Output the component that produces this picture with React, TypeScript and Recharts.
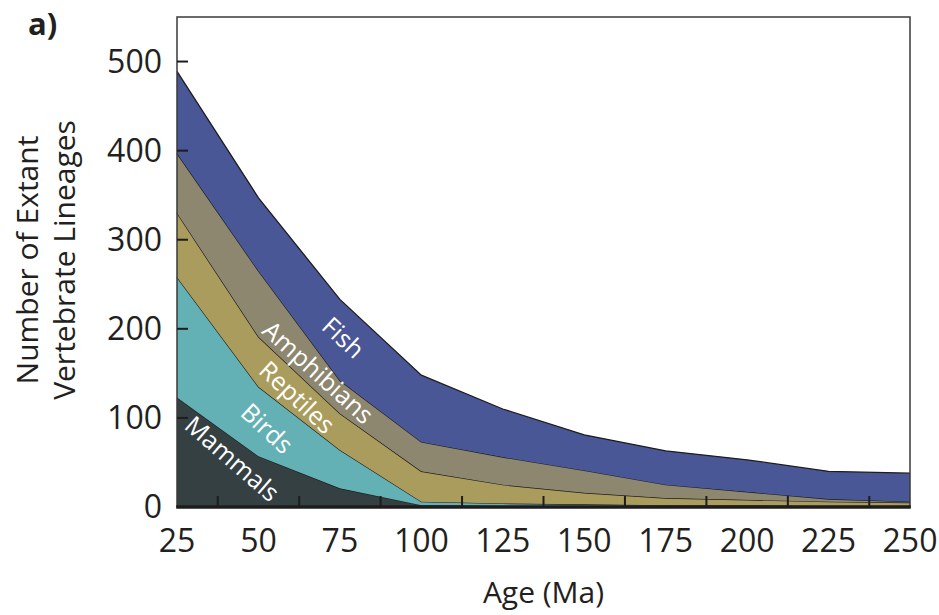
import { AreaChart, Area, XAxis, YAxis, ReferenceArea, ReferenceDot, Label } from 'recharts';

// age (Ma) and lineage counts per group (stacked, bottom to top)
const AGES = [25, 50, 75, 100, 125, 150, 175, 200, 225, 250];
const MAMMALS = [123, 57, 21, 2, 1, 1, 1, 0, 0, 0];
const BIRDS = [135, 78, 43, 4, 3, 2, 1, 2, 1, 1];
const REPTILES = [72, 56, 41, 34, 21, 13, 8, 6, 5, 4];
const AMPHIBIANS = [67, 74, 37, 33, 31, 25, 15, 9, 3, 1];
const FISH = [92, 82, 91, 75, 54, 40, 38, 36, 31, 32];

const X_LABELS = [25, 50, 75, 100, 125, 150, 175, 200, 225, 250];
const X_MARKS = [37.5, 62.5, 87.5, 112.5, 137.5, 162.5, 187.5, 212.5, 237.5];
const Y_TICKS = [0, 100, 200, 300, 400, 500];
const Y_MARKS = [100, 200, 300, 400, 500];

// in-area group names
const AREA_LABELS = [
  { text: 'Fish', age: 76, value: 190, rot: 43 },
  { text: 'Amphibians', age: 68.3, value: 151, rot: 42 },
  { text: 'Reptiles', age: 61.8, value: 123, rot: 43 },
  { text: 'Birds', age: 52.6, value: 88, rot: 43 },
  { text: 'Mammals', age: 41.9, value: 54, rot: 41 },
];

const data = AGES.map((age, i) => ({
  age,
  mammals: MAMMALS[i],
  birds: BIRDS[i],
  reptiles: REPTILES[i],
  amphibians: AMPHIBIANS[i],
  fish: FISH[i],
}));

const FONT = '"Open Sans", sans-serif';
const INK = '#231f20';
const LINE = '#1e1c1c';

const YTitle = ({ viewBox }: any) => {
  const cy = viewBox.y + viewBox.height / 2 - 2;
  return (
    <g fontFamily={FONT} fontSize={30} fill={INK} textAnchor="middle">
      <text transform={`translate(${viewBox.x + 27}, ${cy}) rotate(-90)`} dy="0.35em">Number of Extant</text>
      <text transform={`translate(${viewBox.x + 64}, ${cy}) rotate(-90)`} dy="0.35em">Vertebrate Lineages</text>
    </g>
  );
};

const XTitle = ({ viewBox }: any) => (
  <text x={viewBox.x + viewBox.width / 2} y={viewBox.y + 96} textAnchor="middle" fontFamily={FONT} fontSize={30} fill={INK}>
    Age (Ma)
  </text>
);

const RotLabel = ({ viewBox, txt, rot }: any) => {
  const cx = viewBox.x + viewBox.width / 2;
  const cy = viewBox.y + viewBox.height / 2;
  return (
    <text transform={`translate(${cx}, ${cy}) rotate(${rot})`} dy="0.35em" textAnchor="middle"
      fontFamily={FONT} fontSize={25} fill="#ffffff">
      {txt}
    </text>
  );
};

// short inward tick drawn at a scaled point
const Mark = ({ viewBox, vert }: any) => {
  const cx = viewBox.x + viewBox.width / 2;
  const cy = viewBox.y + viewBox.height / 2;
  const d = vert ? `M${cx},${cy}V${cy - 11}` : `M${cx},${cy}H${cx + 11}`;
  return <path d={d} stroke={LINE} strokeWidth={2} fill="none" />;
};

// plot frame: thin box with a heavy baseline
const Frame = ({ viewBox }: any) => {
  const { x, y, width, height } = viewBox;
  return (
    <g>
      <rect x={x} y={y} width={width} height={height} fill="none" stroke="#3a3a3a" strokeWidth={1.5} />
      <line x1={x - 0.75} x2={x + width + 0.75} y1={y + height} y2={y + height} stroke={LINE} strokeWidth={3.5} />
    </g>
  );
};

export default function App() {
  return (
    <div style={{ position: 'absolute', left: 0, top: 0, width: 939, height: 615, background: '#fff' }}>
      <span style={{ position: 'absolute', left: 28, top: 8, fontFamily: FONT, fontWeight: 700, fontSize: 31, lineHeight: '31px', color: INK }}>
        a)
      </span>
      <AreaChart width={939} height={615} data={data} margin={{ top: 17, right: 29, bottom: 0, left: 0 }}>
        <XAxis dataKey="age" type="number" domain={[25, 250]} ticks={X_LABELS} interval={0} height={108}
          tickLine={false} tickSize={0} tickMargin={22} axisLine={false}
          tick={{ fontFamily: FONT, fontSize: 32, fill: INK }}>
          <Label content={<XTitle />} />
        </XAxis>
        <YAxis type="number" domain={[0, 550]} ticks={Y_TICKS} width={177} tickSize={0} tickMargin={15}
          tickLine={false} axisLine={false} tick={{ fontFamily: FONT, fontSize: 32, fill: INK }}>
          <Label content={<YTitle />} />
        </YAxis>
        <Area type="linear" dataKey="mammals" stackId="a" stroke={LINE} strokeWidth={1.3} fill="#354043" fillOpacity={1} isAnimationActive={false} />
        <Area type="linear" dataKey="birds" stackId="a" stroke={LINE} strokeWidth={1.3} fill="#63b0b5" fillOpacity={1} isAnimationActive={false} />
        <Area type="linear" dataKey="reptiles" stackId="a" stroke={LINE} strokeWidth={1.3} fill="#a99c5d" fillOpacity={1} isAnimationActive={false} />
        <Area type="linear" dataKey="amphibians" stackId="a" stroke={LINE} strokeWidth={1.3} fill="#8d8770" fillOpacity={1} isAnimationActive={false} />
        <Area type="linear" dataKey="fish" stackId="a" stroke={LINE} strokeWidth={1.3} fill="#4a5797" fillOpacity={1} isAnimationActive={false} />
        <ReferenceArea x1={25} x2={250} y1={0} y2={550} fill="none" stroke="none" label={<Frame />} />
        {X_MARKS.map(m => (
          <ReferenceDot key={`x${m}`} x={m} y={0} r={1} fill="none" stroke="none" ifOverflow="visible" label={<Mark vert />} />
        ))}
        {Y_MARKS.map(m => (
          <ReferenceDot key={`y${m}`} x={25} y={m} r={1} fill="none" stroke="none" ifOverflow="visible" label={<Mark />} />
        ))}
        {AREA_LABELS.map(l => (
          <ReferenceDot key={l.text} x={l.age} y={l.value} r={0} fill="none" stroke="none"
            label={<RotLabel txt={l.text} rot={l.rot} />} />
        ))}
      </AreaChart>
    </div>
  );
}
